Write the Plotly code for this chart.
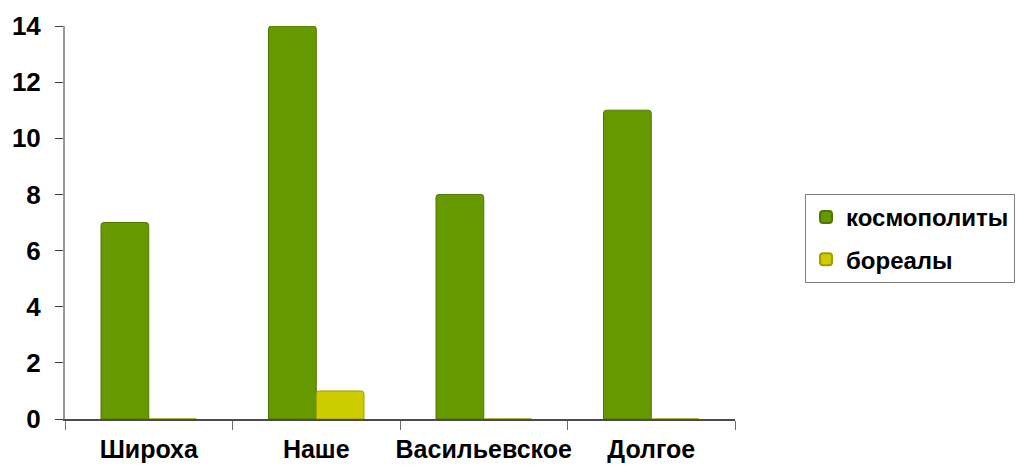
import plotly.graph_objects as go

categories = ["Широха", "Наше", "Васильевское", "Долгое"]
cosmopolites = [7, 14, 8, 11]
boreals = [0, 1, 0, 0]
series_names = ["космополиты", "бореалы"]
y_ticks = [0, 2, 4, 6, 8, 10, 12, 14]

FONT = "Liberation Sans, Arial, sans-serif"

fig = go.Figure()
fig.add_trace(go.Bar(
    x=categories, y=cosmopolites, name=series_names[0], legendgroup="a",
    marker=dict(color="#669900", line=dict(color="#4f7700", width=1), cornerradius=3),
))
fig.add_trace(go.Bar(
    x=categories, y=boreals, name=series_names[1], legendgroup="b",
    marker=dict(color="#cccc00", line=dict(color="#9e9e00", width=1), cornerradius=3),
))

fig.update_layout(
    width=1030, height=467,
    margin=dict(l=65, r=295, t=26, b=48),
    paper_bgcolor="white", plot_bgcolor="white",
    barmode="group", bargap=0.43, bargroupgap=0,
    font=dict(family=FONT, size=22, color="black", weight="bold"),
    showlegend=True,
    legend=dict(
        x=1.1045, y=0.5725, xanchor="left", yanchor="top",
        bordercolor="#808080", borderwidth=1,
        font=dict(family=FONT, size=24, color="black", weight="bold"),
        itemsizing="constant", traceorder="grouped", tracegroupgap=8,
    ),
    xaxis=dict(
        type="category", tickson="boundaries", automargin=False, tickangle=0,
        showline=True, linecolor="#4a4a4a", linewidth=2,
        ticks="outside", ticklen=9, tickcolor="#707070", tickwidth=1,
        showgrid=False, zeroline=False, ticklabelstandoff=7,
        tickfont=dict(family=FONT, size=25, color="black", weight="bold"),
    ),
    yaxis=dict(
        range=[0, 14], tickvals=y_ticks, automargin=False,
        showline=True, linecolor="#9a9a9a", linewidth=2,
        ticks="outside", ticklen=8, tickcolor="#404040", tickwidth=1,
        showgrid=False, zeroline=False,
        ticklabelstandoff=9,
        tickfont=dict(family=FONT, size=26, color="black", weight="bold"),
    ),
)

fig.write_html("out.html", config={"displayModeBar": False},
               post_script="document.body.style.margin='0';")
